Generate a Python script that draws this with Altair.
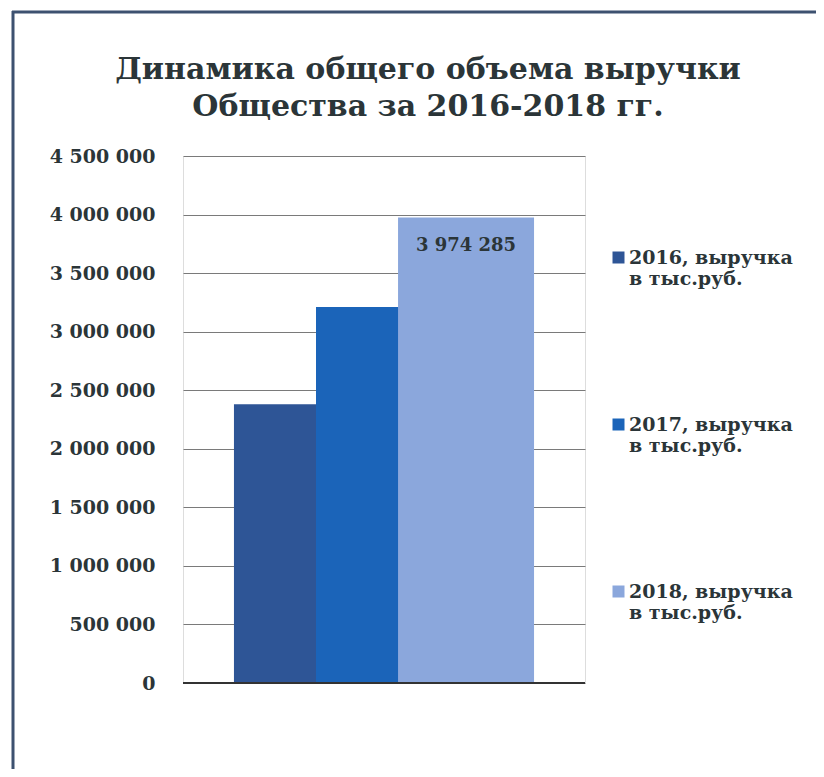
import altair as alt
import pandas as pd

# ---- data ----
years = ["2016", "2017", "2018"]
revenue = [2380000, 3210000, 3974285]
y_ticks = [0, 500000, 1000000, 1500000, 2000000, 2500000, 3000000, 3500000, 4000000, 4500000]
title_text = "Динамика общего объема выручки\nОбщества за 2016-2018 гг."
legend_line1 = ", выручка"
legend_line2 = "в тыс.руб."
labelled_year = "2018"

# ---- styles ----
colors = ["#2e5596", "#1b64b9", "#8ba7dc"]
text_color = "#2b3538"
FONT = "DejaVu Serif"

df = pd.DataFrame({"year": years, "revenue": revenue})

fmt_expr = "replace(replace(replace(format({v}, ','), ',', ' '), ',', ' '), ',', ' ')"

x_enc = alt.X("year:N", sort=years, axis=None,
              scale=alt.Scale(type="band", paddingInner=0, paddingOuter=0.95))
y_scale = alt.Scale(domain=[0, 4500000], nice=False)
y_enc = alt.Y("revenue:Q", scale=y_scale,
              axis=alt.Axis(values=y_ticks, title=None, ticks=False, domain=False,
                            grid=True, gridColor="#7a7a7a", gridWidth=1,
                            labelFont=FONT, labelFontSize=19, labelFontWeight="bold",
                            labelColor=text_color, labelPadding=28,
                            labelExpr=fmt_expr.format(v="datum.value")))

bars = alt.Chart(df).mark_bar(size=136).encode(
    x=x_enc,
    y=y_enc,
    color=alt.Color("year:N",
                    scale=alt.Scale(domain=years, range=colors),
                    legend=alt.Legend(
                        title=None, orient="none", legendX=426, legendY=92,
                        direction="vertical",
                        symbolType="square", symbolSize=144,
                        symbolStrokeWidth=0,
                        labelFont=FONT, labelFontSize=19, labelFontWeight="bold",
                        labelColor=text_color, labelLimit=400,
                        labelBaseline="middle",
                        labelExpr=f"[datum.label + '{legend_line1}', '{legend_line2}']",
                        rowPadding=126, labelOffset=1)),
)

zero_line = alt.Chart(df).mark_rule(color="#333333", strokeWidth=2).encode(
    y=alt.datum(0)
)

label = alt.Chart(df).transform_filter(
    alt.datum.year == labelled_year
).transform_calculate(
    lbl=fmt_expr.format(v="datum.revenue")
).mark_text(dy=28, font=FONT, fontSize=18, fontWeight="bold", color=text_color).encode(
    x=x_enc,
    y=alt.Y("revenue:Q", scale=y_scale),
    text="lbl:N",
)

frame_df = pd.DataFrame({"k": [0]})
frame_left = alt.Chart(frame_df).mark_rule(color="#3d5170", strokeWidth=3).encode(
    x=alt.value(-170), y=alt.value(-145), y2=alt.value(640)
)
frame_top = alt.Chart(frame_df).mark_rule(color="#3d5170", strokeWidth=3).encode(
    x=alt.value(-171), x2=alt.value(700), y=alt.value(-144)
)
title = alt.Chart(frame_df).mark_text(
    font=FONT, fontSize=30, fontWeight="bold", color=text_color,
    align="center", baseline="middle", lineBreak="\n", lineHeight=37
).encode(
    x=alt.value(245), y=alt.value(-86), text=alt.value(title_text)
)

chart = alt.layer(frame_left, frame_top, title, bars, zero_line, label).properties(
    width=402,
    height=527,
    autosize=alt.AutoSizeParams(type="none"),
    padding={"left": 175, "top": 148, "right": 231, "bottom": 86},
).configure_view(stroke="#555555", strokeWidth=1.5).configure(background="white")

chart.save("out.html", embed_options={"renderer": "svg", "actions": False})
